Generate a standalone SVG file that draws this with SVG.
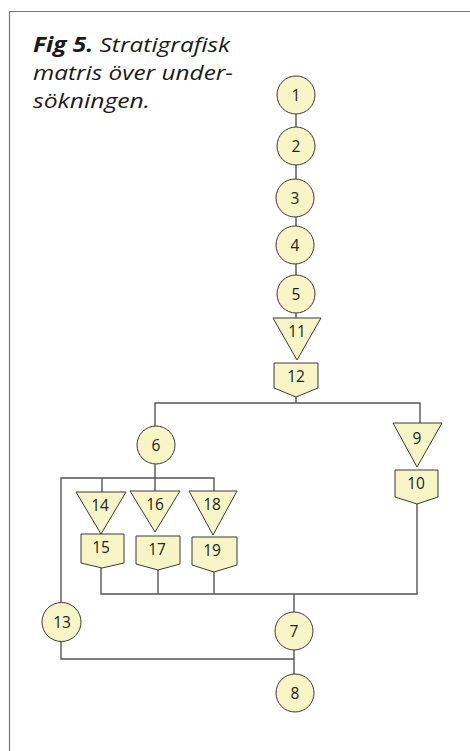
<svg xmlns="http://www.w3.org/2000/svg" width="470" height="751" viewBox="0 0 470 751">
<style>
.n{fill:#f7f5c6;stroke:#3a3a3a;stroke-width:1}
.t{font-family:"Open Sans","Noto Sans",sans-serif;font-size:15.5px;fill:#222;text-anchor:middle}
.c{fill:none;stroke:#555;stroke-width:1.4}
.title{font-family:"Open Sans","Noto Sans",sans-serif;font-size:20.5px;font-style:italic;fill:#1a1a1a}
</style>
<rect width="470" height="751" fill="#fff"/>
<path d="M9.5,751 V11.5 H470" fill="none" stroke="#6b7f6b" stroke-width="1.2"/>
<text class="title" x="33" y="52" textLength="197" lengthAdjust="spacingAndGlyphs"><tspan font-weight="bold">Fig 5.</tspan> Stratigrafisk</text>
<text class="title" x="33" y="80" textLength="200" lengthAdjust="spacingAndGlyphs">matris över under-</text>
<text class="title" x="33" y="108" textLength="117" lengthAdjust="spacingAndGlyphs">sökningen.</text>
<g id="connectors">
<path class="c" d="M296,114 V127 M296,164 V179 M296,216 V226 M296,263 V275 M296,312 V318"/>
<path class="c" d="M296,397 V403 M155,427 V403 H420 V423"/>
<path class="c" d="M155,463 V478 M61,602 V478 H214 V491 M102,478 V492 M155,478 V491"/>
<path class="c" d="M417,504 V594 H101 V568 M158,570 V594 M214,572 V594 M294,594 V612"/>
<path class="c" d="M61,641 V659 H294 M294,650 V674"/>
</g>
<g id="n1"><circle class="n" cx="296" cy="95" r="19"/><text class="t" x="296" y="100.5">1</text></g>
<g id="n2"><circle class="n" cx="296" cy="146" r="19"/><text class="t" x="296" y="151.5">2</text></g>
<g id="n3"><circle class="n" cx="295" cy="198" r="19"/><text class="t" x="295" y="203.5">3</text></g>
<g id="n4"><circle class="n" cx="295" cy="245" r="19"/><text class="t" x="295" y="250.5">4</text></g>
<g id="n5"><circle class="n" cx="296" cy="294" r="19"/><text class="t" x="296" y="299.5">5</text></g>
<g id="n11"><polygon class="n" points="273,318 321,318 297,360"/><text class="t" x="297" y="337">11</text></g>
<g id="n12"><polygon class="n" points="274,363 318,363 318,388 296,397 274,388"/><text class="t" x="296" y="382">12</text></g>
<g id="n6"><circle class="n" cx="156" cy="445" r="19"/><text class="t" x="156" y="450.5">6</text></g>
<g id="n9"><polygon class="n" points="393,423 442,423 417,467"/><text class="t" x="417" y="444">9</text></g>
<g id="n10"><polygon class="n" points="395,470 438,470 438,497 417,504 395,497"/><text class="t" x="416" y="489">10</text></g>
<g id="n14"><polygon class="n" points="76,492 126,492 101,534"/><text class="t" x="100" y="511">14</text></g>
<g id="n15"><polygon class="n" points="81,534 124,534 124,563 102,568 81,563"/><text class="t" x="101" y="553">15</text></g>
<g id="n16"><polygon class="n" points="130,491 180,491 155,532"/><text class="t" x="155" y="510">16</text></g>
<g id="n17"><polygon class="n" points="136,536 180,536 180,564 158,570 136,564"/><text class="t" x="157" y="555">17</text></g>
<g id="n18"><polygon class="n" points="189,491 237,491 213,535"/><text class="t" x="212" y="510">18</text></g>
<g id="n19"><polygon class="n" points="192,537 237,537 237,565 214,572 192,565"/><text class="t" x="212" y="556">19</text></g>
<g id="n13"><circle class="n" cx="61.5" cy="622" r="19.5"/><text class="t" x="62" y="627.5">13</text></g>
<g id="n7"><circle class="n" cx="294" cy="631" r="19"/><text class="t" x="294" y="636.5">7</text></g>
<g id="n8"><circle class="n" cx="295" cy="693" r="19"/><text class="t" x="295" y="698.5">8</text></g>
</svg>
